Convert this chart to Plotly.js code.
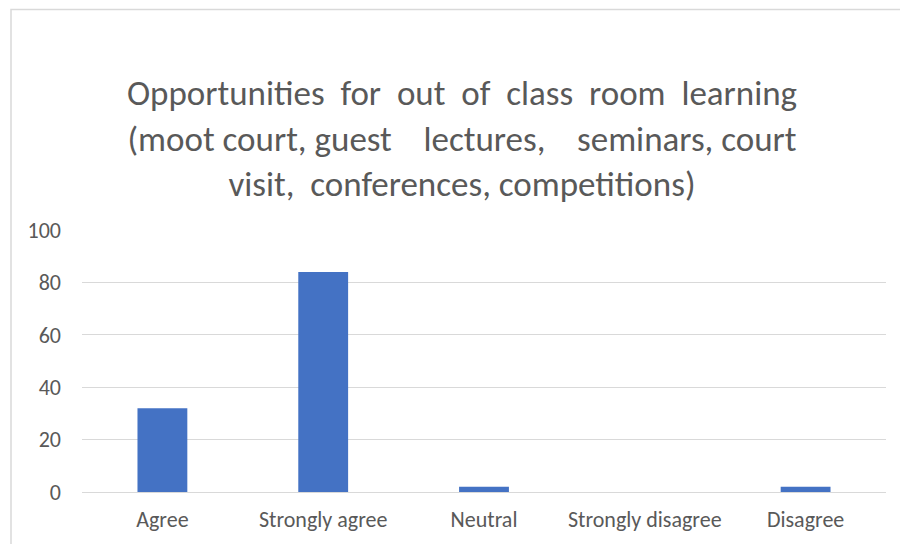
<!DOCTYPE html>
<html>
<head>
<meta charset="utf-8">
<script src="https://cdn.plot.ly/plotly-3.0.1.min.js"></script>
<style>html,body{margin:0;padding:0;background:#fff;}#chart{width:900px;height:544px;}</style>
</head>
<body>
<div id="chart"></div>
<script>
const categories = ["Agree", "Strongly agree", "Neutral", "Strongly disagree", "Disagree"];
const values = [32, 84, 2, 0, 2];
const yTicks = [0, 20, 40, 60, 80, 100];
const titleLines = [
  "Opportunities\u00A0 for\u00A0 out\u00A0 of\u00A0 class\u00A0 room\u00A0 learning",
  "(moot court, guest\u00A0\u00A0\u00A0 lectures,\u00A0\u00A0\u00A0 seminars, court",
  "visit,\u00A0 conferences, competitions)"
];

const plotL = 82, plotR = 886, plotT = 230, plotB = 492.5;
const W = 900, H = 544;
const pw = plotR - plotL, ph = plotB - plotT;
const px = v => (v - plotL) / pw;
const py = v => (plotB - v) / ph;

const font = "Calibri, Carlito, 'Liberation Sans Narrow', 'Open Sans', sans-serif";

Plotly.newPlot("chart", [{
  type: "bar",
  x: categories,
  y: values,
  marker: {color: "#4472c4"},
  hoverinfo: "x+y"
}], {
  width: W, height: H,
  margin: {l: plotL, r: W - plotR, t: plotT, b: H - plotB, pad: 0},
  paper_bgcolor: "#ffffff",
  plot_bgcolor: "#ffffff",
  bargap: 0.69,
  showlegend: false,
  font: {family: font, color: "#595959", size: 22},
  title: {
    text: titleLines.join("<br>"),
    font: {family: font, size: 35, color: "#595959"},
    x: px(462), xanchor: "center",
    y: 1 - 105 / H, yanchor: "middle",
    xref: "paper", yref: "container"
  },
  xaxis: {
    type: "category",
    showgrid: false,
    zeroline: false,
    showline: false,
    ticks: "",
    tickfont: {family: font, size: 22, color: "#595959"},
    ticklabelstandoff: 12
  },
  yaxis: {
    range: [0, 100],
    tickvals: yTicks,
    showgrid: true,
    gridcolor: "#d9d9d9",
    gridwidth: 1,
    zeroline: true,
    zerolinecolor: "#d9d9d9",
    zerolinewidth: 1,
    showline: false,
    ticks: "",
    ticklabelstandoff: 20,
    tickfont: {family: font, size: 22, color: "#595959"}
  },
  shapes: [{
    type: "rect", xref: "paper", yref: "paper", layer: "below",
    x0: px(11), x1: px(905), y0: py(560), y1: py(9),
    line: {color: "#d9d9d9", width: 1.5}, fillcolor: "rgba(0,0,0,0)"
  }]
}, {displayModeBar: false, staticPlot: true});
</script>
</body>
</html>
